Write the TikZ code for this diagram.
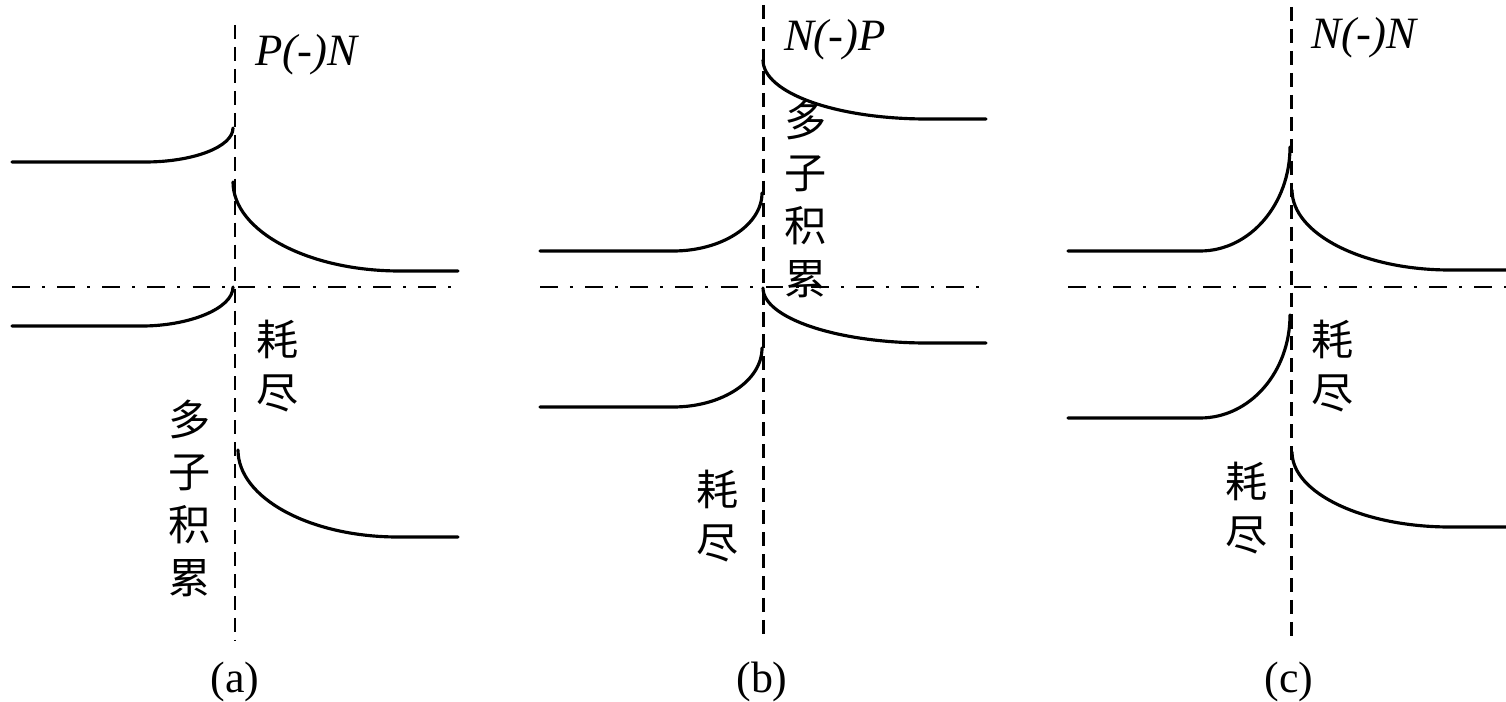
\documentclass[tikz,border=0pt]{standalone}
\usepackage{fontspec}
\setmainfont{Liberation Serif}
\newfontfamily\cjkfont{Noto Sans CJK SC}
\usepackage{tikz}

\begin{document}
\begin{tikzpicture}[
    x=0.02cm, y=-0.02cm,
    band/.style={
        line width=1.8pt, line cap=round
    },
    junction/.style={
        line width=1.7pt, dash pattern=on 8pt off 4.5pt
    },
    fermi/.style={
        line width=1.7pt, dash pattern=on 10pt off 7pt on 1.7pt off 7pt
    },
    lbl/.style={
        font=\fontsize{25.5}{28}\selectfont\itshape, inner sep=0pt
    },
    caption/.style={
        font=\fontsize{25}{28}\selectfont, inner sep=0pt
    },
    cjk/.style={
        font=\cjkfont\fontsize{24}{30}\selectfont, align=center, inner sep=0pt
    }
]
\useasboundingbox (0,0) rectangle (1506,702);

% (a) P(-)N
\draw[junction] (235,25) -- (235,640);
\draw[fermi] (12,287) -- (458,287);
\draw[band] (12,162) -- (145,162) .. controls (193,162) and (233,147) .. (233,128);
\draw[band] (233,182) .. controls (233,231) and (308,271) .. (400,271) -- (458,271);
\draw[band] (12,326) -- (142,326) .. controls (188,326) and (233,309) .. (233,287);
\draw[band] (238,450) .. controls (238,498) and (310,537) .. (398,537) -- (458,537);
\node[lbl] (pn) at (306,55) {P(-)N};
\node[cjk] (depa) at (278,366) {耗\\尽};
\node[cjk] (acca) at (190,498) {多\\子\\积\\累};
\node[caption] (capa) at (235,682) {(a)};

% (b) N(-)P
\draw[junction] (763,5) -- (763,640);
\draw[fermi] (540,287) -- (986,287);
\draw[band] (763,60) .. controls (763,93) and (836,119) .. (927,119) -- (986,119);
\draw[band] (540,251) -- (673,251) .. controls (722,251) and (762,225) .. (762,193);
\draw[band] (763,288) .. controls (763,318) and (837,343) .. (927,343) -- (986,343);
\draw[band] (540,407) -- (673,407) .. controls (722,407) and (762,381) .. (762,348);
\node[lbl] (np) at (835,40) {N(-)P};
\node[cjk] (accb) at (806,199) {多\\子\\积\\累};
\node[cjk] (depb) at (718,516) {耗\\尽};
\node[caption] (capb) at (762,682) {(b)};

% (c) N(-)N
\draw[junction] (1291,7) -- (1291,640);
\draw[fermi] (1068,287) -- (1506,287);
\draw[band] (1068,251) -- (1200,251) .. controls (1250,251) and (1290,204) .. (1290,147);
\draw[band] (1292,190) .. controls (1292,234) and (1363,270) .. (1450,270) -- (1506,270);
\draw[band] (1068,418) -- (1200,418) .. controls (1250,418) and (1290,372) .. (1290,315);
\draw[band] (1292,452) .. controls (1292,493) and (1363,527) .. (1450,527) -- (1506,527);
\node[lbl] (nn) at (1364,38) {N(-)N};
\node[cjk] (depc1) at (1333,366) {耗\\尽};
\node[cjk] (depc2) at (1247,508) {耗\\尽};
\node[caption] (capc) at (1289,682) {(c)};

\end{tikzpicture}
\end{document}
